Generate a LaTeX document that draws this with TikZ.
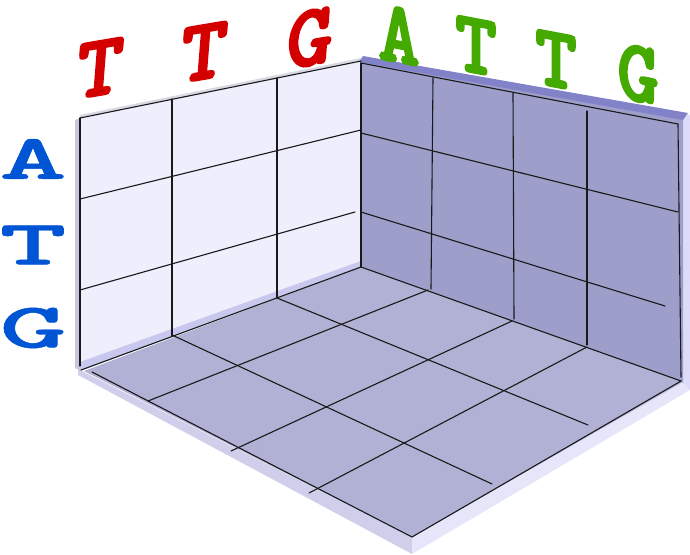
\documentclass[tikz,border=0pt]{standalone}
\usepackage{fontspec}
\newfontfamily\tmono{lmmonolt10-bold.otf}[FakeBold=2.5]
\newfontfamily\bmono{lmmonolt10-bold.otf}[FakeBold=0.6]
\definecolor{lred}{HTML}{D40000}
\definecolor{lgreen}{HTML}{44AA00}
\definecolor{lblue}{HTML}{0055D4}
\definecolor{lwall}{HTML}{EEEEFC}
\definecolor{lwalledge}{HTML}{C6C6E0}
\definecolor{lwallband}{HTML}{C8C8EE}
\definecolor{rwall}{HTML}{9E9ECB}
\definecolor{rwalltop}{HTML}{8282C9}
\definecolor{rwallside}{HTML}{DCDCFA}
\definecolor{floorc}{HTML}{B1B1D5}
\definecolor{slabl}{HTML}{CFCFEB}
\definecolor{slabr}{HTML}{E6E6FB}
\tikzset{
  gridline/.style={draw=black!90, line width=1.1pt, line cap=round},
  redl/.style={text=lred, inner sep=0pt, font=\fontsize{88}{88}\selectfont\tmono, yslant=0.17, xslant=0.08},
  greenl/.style={text=lgreen, inner sep=0pt, font=\fontsize{88}{88}\selectfont\tmono, yslant=-0.19, xscale=0.9},
  bluel/.style={text=lblue, inner sep=0pt, font=\fontsize{64}{64}\selectfont\bmono, xscale=2.0}
}
\begin{document}
\begin{tikzpicture}[x=1pt,y=-1pt]
\useasboundingbox (0,0) rectangle (690,554);
% floor slab
\fill[slabl] (78,369) -- (412,537) -- (412,554) -- (78,375) -- cycle;
\fill[slabr] (412,537) -- (683,382) -- (690,379) -- (690,390) -- (412,554) -- cycle;
% left wall
\fill[lwalledge] (75,120) -- (80,118) -- (80,370) -- (75,368) -- cycle;
\fill[lwall] (80,118) -- (361,61) -- (361,267) -- (80,368) -- cycle;
\draw[line width=3pt, draw=lwallband!80!black!40] (80,116.5) -- (361,59.5);
% right wall
\fill[rwallside] (683,119) -- (688,114) -- (690,116) -- (690,390) -- (683,383) -- cycle;
\fill[rwall] (360,62) -- (683,119) -- (683,383) -- (360,267) -- cycle;
\fill[rwalltop] (359,62) -- (363,56) -- (688,113) -- (683,120) -- cycle;
% floor
\fill[floorc] (84,371) -- (361,267) -- (683,382) -- (412,537) -- cycle;
% left wall bottom band
\fill[lwallband] (80,362) -- (361,261) -- (361,267) -- (80,371) -- cycle;

% left wall grid
\coordinate (lw1) at (80,118);  \coordinate (lw2) at (361,61);
\coordinate (lh2a) at (80,199); \coordinate (lh2b) at (361,130);
\coordinate (lh3a) at (80,290); \coordinate (lh3b) at (355,212);
\coordinate (lv0a) at (80,118); \coordinate (lv0b) at (80,366);
\coordinate (lv1a) at (172,99); \coordinate (lv1b) at (172,336);
\coordinate (lv2a) at (277,78); \coordinate (lv2b) at (277,298);
\draw[gridline] (lw1) -- (lw2);
\draw[gridline] (lh2a) -- (lh2b);
\draw[gridline] (lh3a) -- (lh3b);
\draw[gridline] (lv0a) -- (lv0b);
\draw[gridline] (lv1a) -- (lv1b);
\draw[gridline] (lv2a) -- (lv2b);
% right wall grid
\coordinate (c0) at (361,63); \coordinate (c1) at (361,267);
\coordinate (rt) at (678,124);
\coordinate (rh2a) at (361,133); \coordinate (rh2b) at (678,212);
\coordinate (rh3a) at (361,212); \coordinate (rh3b) at (665,306);
\coordinate (rv1a) at (433,78); \coordinate (rv1b) at (431,289);
\coordinate (rv2a) at (513,93); \coordinate (rv2b) at (514,319);
\coordinate (rv3a) at (587,111); \coordinate (rv3b) at (587,345);
\coordinate (rbr) at (681,377);
\draw[gridline] (c0) -- (c1);
\draw[gridline] (c0) -- (rt) -- (rbr);
\draw[gridline] (rh2a) -- (rh2b);
\draw[gridline] (rh3a) -- (rh3b);
\draw[gridline] (rv1a) -- (rv1b);
\draw[gridline] (rv2a) -- (rv2b);
\draw[gridline] (rv3a) -- (rv3b);
% floor grid
\coordinate (fl) at (81,370); \coordinate (fl2) at (92,372);
\coordinate (fb) at (361,267); \coordinate (fr) at (681,381);
\coordinate (ff) at (412,537);
\draw[gridline] (fl) -- (fb) -- (fr) -- (ff) -- (fl2);
\coordinate (fa1) at (428,290); \coordinate (fa2) at (148,401);
\coordinate (fb1) at (512,321); \coordinate (fb2) at (231,451);
\coordinate (fc1) at (587,347); \coordinate (fc2) at (309,493);
\coordinate (fd1) at (172,335); \coordinate (fd2) at (492,484);
\coordinate (fe1) at (277,298); \coordinate (fe2) at (588,425);
\draw[gridline] (fa1) -- (fa2);
\draw[gridline] (fb1) -- (fb2);
\draw[gridline] (fc1) -- (fc2);
\draw[gridline] (fd1) -- (fd2);
\draw[gridline] (fe1) -- (fe2);

% letters
\node[redl] (r1) at (100,68) {T};
\node[redl] (r2) at (204,52) {T};
\node[redl] (r3) at (310,38) {G};
\node[greenl] (g1) at (399,35) {A};
\node[greenl] (g2) at (476,46) {T};
\node[greenl] (g3) at (556,60) {T};
\node[greenl] (g4) at (638,74) {G};
\node[bluel] (b1) at (33,159) {A};
\node[bluel] (b2) at (33,245) {T};
\node[bluel] (b3) at (33,328) {G};
\end{tikzpicture}
\end{document}
